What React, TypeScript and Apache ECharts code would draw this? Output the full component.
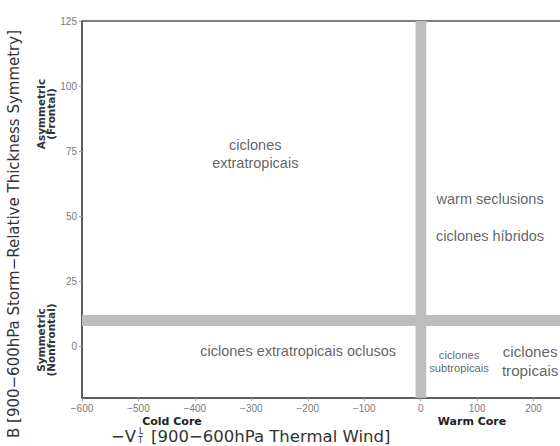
import React, { useEffect, useRef } from "react";
import * as echarts from "echarts";

const xTickLabels = [-600, -500, -400, -300, -200, -100, 0, 100, 200];
const yTicks = [0, 25, 50, 75, 100, 125];
const xRange = [-600, 300];
const yRange = [-20, 125];
const verticalBand = [-9, 10];
const horizontalBand = [7.7, 11.9];

const regionNames = [
  "ciclones\nextratropicais",
  "warm seclusions",
  "ciclones híbridos",
  "ciclones extratropicais oclusos",
  "ciclones\nsubtropicais",
  "ciclones\ntropicais",
];
const regionX = [-293, 123, 123, -217, 68, 194];
const regionY = [73.8, 56.5, 42.3, -1.9, -5.8, -5.8];
const regionSize = [14.5, 14.5, 14.5, 14.5, 11.2, 15.2];
const regionLineHeight = [18, 18, 18, 18, 13, 19];

const TITLE_FONT = "DejaVu Sans";
const TICK_FONT = "Liberation Sans";

export default function App() {
  const ref = useRef<HTMLDivElement>(null);
  useEffect(() => {
    if (!ref.current) return;
    const chart = echarts.init(ref.current, null, { renderer: "svg" });
    const fmt = (v: number) => String(v).replace("-", "−");
    chart.setOption({
      animation: false,
      backgroundColor: "#ffffff",
      grid: {
        left: 82,
        top: 21,
        right: 10,
        bottom: 48,
        show: true,
        borderColor: "#555",
        borderWidth: 1.5,
        backgroundColor: "transparent",
      },
      xAxis: {
        type: "value",
        min: xRange[0],
        max: xRange[1],
        interval: 100,
        splitLine: { show: false },
        axisLine: { show: true, onZero: false, lineStyle: { color: "#555", width: 1.5 } },
        axisTick: { show: true, length: 3, lineStyle: { color: "#999" } },
        axisLabel: {
          color: "#7a7a7a",
          fontFamily: TICK_FONT,
          fontSize: 10,
          margin: 5,
          customValues: xTickLabels,
          formatter: (v: number) => fmt(v),
        },
      },
      yAxis: {
        type: "value",
        min: yRange[0],
        max: yRange[1],
        splitLine: { show: false },
        axisLine: { show: true, onZero: false, lineStyle: { color: "#555", width: 1.5 } },
        axisTick: {
          show: true,
          length: 3,
          lineStyle: { color: "#999" },
          customValues: yTicks,
        },
        axisLabel: {
          color: "#7a7a7a",
          fontFamily: TICK_FONT,
          fontSize: 10,
          margin: 5,
          customValues: yTicks,
          formatter: (v: number) => fmt(v),
        },
      },
      series: [
        {
          type: "scatter",
          symbolSize: 0,
          silent: true,
          data: regionNames.map((n, i) => ({
            value: [regionX[i], regionY[i]],
            name: n,
            label: {
              show: true,
              position: "inside",
              formatter: n,
              color: "#3a3a3a",
              fontFamily: "Liberation Sans",
              fontSize: regionSize[i],
              lineHeight: regionLineHeight[i],
              align: "center",
              verticalAlign: "middle",
            },
          })),
          markArea: {
            silent: true,
            itemStyle: { color: "#bdbdbd", opacity: 1 },
            data: [
              [{ xAxis: verticalBand[0] }, { xAxis: verticalBand[1] }],
              [{ yAxis: horizontalBand[0] }, { yAxis: horizontalBand[1] }],
            ],
          },
          z: 3,
        },
      ],
      graphic: [
        {
          type: "text",
          x: 14,
          y: 234,
          rotation: Math.PI / 2,
          style: {
            text: "B [900−600hPa Storm−Relative Thickness Symmetry]",
            font: `15px '${TITLE_FONT}'`,
            fill: "#333",
            align: "center",
            verticalAlign: "middle",
          },
        },
        {
          type: "text",
          x: 46,
          y: 114,
          rotation: Math.PI / 2,
          style: {
            text: "Asymmetric\n(Frontal)",
            font: `bold 10.5px '${TITLE_FONT}'`,
            lineHeight: 10,
            fill: "#333",
            align: "center",
            verticalAlign: "middle",
          },
        },
        {
          type: "text",
          x: 46,
          y: 340,
          rotation: Math.PI / 2,
          style: {
            text: "Symmetric\n(Nonfrontal)",
            font: `bold 10.5px '${TITLE_FONT}'`,
            lineHeight: 10,
            fill: "#333",
            align: "center",
            verticalAlign: "middle",
          },
        },
        {
          type: "text",
          x: 172,
          y: 421,
          style: {
            text: "Cold Core",
            font: `bold 11px '${TITLE_FONT}'`,
            fill: "#222",
            align: "center",
            verticalAlign: "middle",
          },
        },
        {
          type: "text",
          x: 472,
          y: 421,
          style: {
            text: "Warm Core",
            font: `bold 11px '${TITLE_FONT}'`,
            fill: "#222",
            align: "center",
            verticalAlign: "middle",
          },
        },
        {
          type: "text",
          x: 111,
          y: 436,
          style: {
            text: "−V",
            font: `16.5px '${TITLE_FONT}'`,
            fill: "#333",
            align: "left",
            verticalAlign: "middle",
          },
        },
        {
          type: "text",
          x: 139,
          y: 431,
          style: {
            text: "L",
            font: `8px '${TITLE_FONT}'`,
            fill: "#333",
            align: "left",
            verticalAlign: "middle",
          },
        },
        {
          type: "text",
          x: 138,
          y: 440,
          style: {
            text: "T",
            font: `8px '${TITLE_FONT}'`,
            fill: "#333",
            align: "left",
            verticalAlign: "middle",
          },
        },
        {
          type: "text",
          x: 151,
          y: 436,
          style: {
            text: "[900−600hPa Thermal Wind]",
            font: `16.5px '${TITLE_FONT}'`,
            fill: "#333",
            align: "left",
            verticalAlign: "middle",
          },
        },
      ],
    });
    return () => chart.dispose();
  }, []);
  return (
    <div style={{ width: 560, height: 446, position: "absolute", left: 0, top: 0, overflow: "hidden" }}>
      <div ref={ref} style={{ width: 600, height: 446 }} />
    </div>
  );
}
